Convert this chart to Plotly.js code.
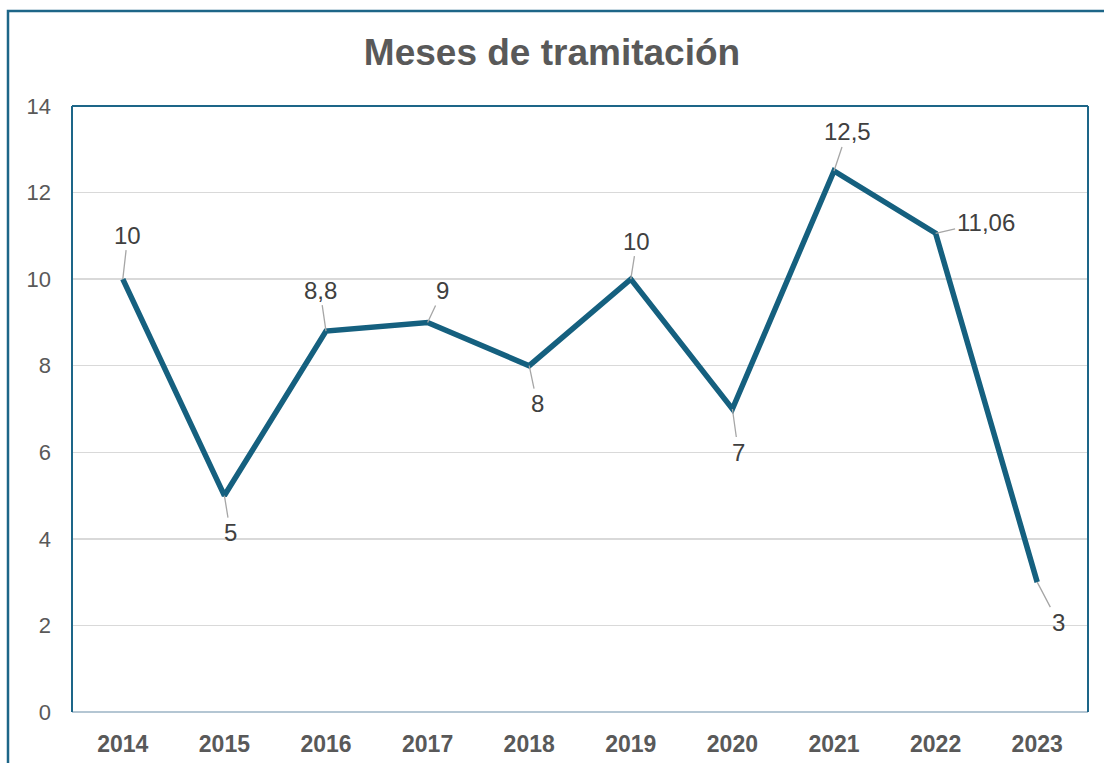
<!DOCTYPE html>
<html><head><meta charset="utf-8">
<script src="https://cdn.plot.ly/plotly-3.0.1.min.js"></script>
<style>html,body{margin:0;padding:0;background:#fff;}#chart{width:1104px;height:763px;}</style>
</head><body><div id="chart"></div>
<script>
const years = ['2014','2015','2016','2017','2018','2019','2020','2021','2022','2023'];
const months = [10, 5, 8.8, 9, 8, 10, 7, 12.5, 11.06, 3];
const labelText = ['10','5','8,8','9','8','10','7','12,5','11,06','3'];
const labelDx = [5, 6, -6, 15, 8, 6, 6, 13, 50, 21];
const labelDy = [-44, 37, -41, -32, 38, -38, 43, -39, -11, 40];
const yTicks = [0, 2, 4, 6, 8, 10, 12, 14];

const L = 72, R = 16, T = 106, B = 51, W = 1104, H = 763;
const pw = W - L - R, ph = H - T - B;
const px = v => (v - L) / pw;
const py = v => 1 - (v - T) / ph;
const dark = '#1d6688';
const FONT = 'Liberation Sans, Arial, sans-serif';

const annotations = years.map((y, i) => ({
  x: i, y: months[i], xref: 'x', yref: 'y',
  text: labelText[i], showarrow: true, arrowhead: 0, arrowwidth: 1.3,
  arrowcolor: '#a6a6a6', ax: labelDx[i], ay: labelDy[i], standoff: 0, startstandoff: 0,
  font: {family: FONT, size: 24, color: '#404040'}
}));

const shapes = [
  {type: 'rect', xref: 'paper', yref: 'paper', x0: px(8), x1: px(1112), y0: py(775), y1: py(11),
   line: {color: dark, width: 2.5}, fillcolor: 'rgba(0,0,0,0)', layer: 'above'},
  {type: 'line', xref: 'paper', yref: 'paper', x0: 0, x1: 1, y0: 0, y1: 0, line: {color: '#b4c6d3', width: 2}, layer: 'above'},
  {type: 'line', xref: 'paper', yref: 'paper', x0: 0, x1: 1, y0: 1, y1: 1, line: {color: dark, width: 2}, layer: 'above'},
  {type: 'line', xref: 'paper', yref: 'paper', x0: 0, x1: 0, y0: 0, y1: 1, line: {color: dark, width: 2}, layer: 'above'},
  {type: 'line', xref: 'paper', yref: 'paper', x0: 1, x1: 1, y0: 0, y1: 1, line: {color: dark, width: 2}, layer: 'above'}
];

Plotly.newPlot('chart', [{
  x: years, y: months, type: 'scatter', mode: 'lines',
  line: {color: '#15607f', width: 5.5}, hoverinfo: 'skip', cliponaxis: false
}], {
  width: W, height: H,
  margin: {l: L, r: R, t: T, b: B, pad: 0},
  paper_bgcolor: '#fff', plot_bgcolor: '#fff',
  showlegend: false,
  title: {text: '<b>Meses de tramitación</b>', x: 0.5, xanchor: 'center', y: 1 - 52/H, yanchor: 'middle',
    font: {family: FONT, size: 37, color: '#595959'}},
  xaxis: {type: 'category', range: [-0.5, 9.5], showgrid: false, zeroline: false, showline: false,
    ticks: '', ticklabelstandoff: 16,
    tickfont: {family: FONT, size: 23, color: '#595959', weight: 'bold'}},
  yaxis: {range: [0, 14], tickvals: yTicks, ticktext: yTicks.map(String), showgrid: true, gridcolor: '#d9d9d9', gridwidth: 1.5,
    zeroline: false, showline: false, ticks: '', ticklabelstandoff: 20,
    tickfont: {family: FONT, size: 22, color: '#595959'}},
  annotations: annotations,
  shapes: shapes
}, {displayModeBar: false, staticPlot: true});
</script></body></html>
